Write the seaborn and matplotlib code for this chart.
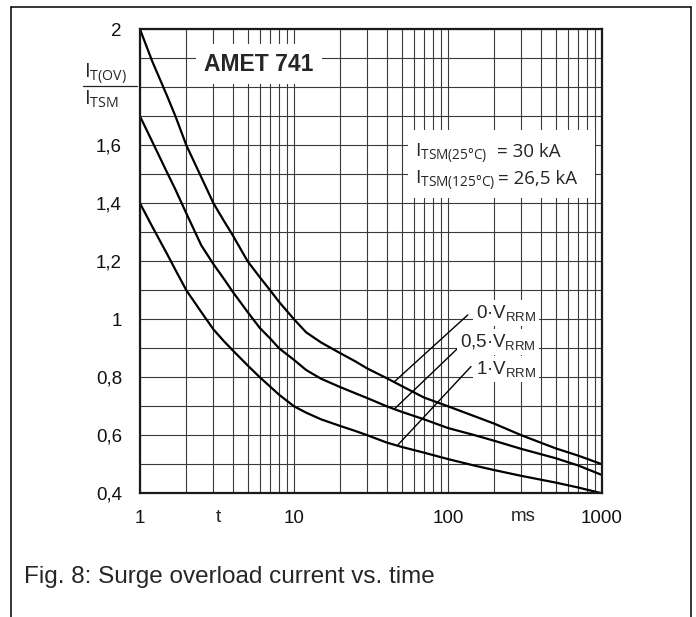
import numpy as np
import pandas as pd
import seaborn as sns
import matplotlib.pyplot as plt
from matplotlib.lines import Line2D
from matplotlib.patches import Rectangle
from matplotlib.ticker import NullFormatter

# Werte (t in ms, I_T(OV)/I_TSM)
t_ms = [1, 1.2, 1.5, 1.7, 2, 2.5, 3, 3.5, 4, 5, 6, 7, 8, 10, 12, 15, 20, 25, 30, 40, 50, 70,
        100, 150, 200, 300, 500, 700, 1000]
ratio_0vrrm = [2.0, 1.89, 1.77, 1.70, 1.60, 1.49, 1.40, 1.34, 1.29, 1.20, 1.145, 1.10, 1.06,
               1.0, 0.955, 0.92, 0.883, 0.855, 0.83, 0.797, 0.77, 0.73,
               0.70, 0.665, 0.64, 0.60, 0.555, 0.53, 0.50]
ratio_05vrrm = [1.70, 1.613, 1.506, 1.447, 1.365, 1.255, 1.19, 1.14, 1.095, 1.025, 0.97, 0.934,
                0.90, 0.86, 0.825, 0.795, 0.766, 0.745, 0.728, 0.70, 0.681, 0.655,
                0.625, 0.60, 0.581, 0.553, 0.521, 0.496, 0.463]
ratio_1vrrm = [1.40, 1.32, 1.225, 1.17, 1.10, 1.025, 0.965, 0.925, 0.893, 0.841, 0.80, 0.768,
               0.74, 0.70, 0.678, 0.655, 0.632, 0.615, 0.60, 0.575, 0.56, 0.54,
               0.518, 0.495, 0.48, 0.46, 0.437, 0.42, 0.40]
kurven = ['0·V', '0,5·V', '1·V']

# Beschriftungen der Kurven und Hinweislinien (Kurve -> Text)
kurven_labels = ['0·V$_{\\mathregular{RRM}}$', '0,5·V$_{\\mathregular{RRM}}$', '1·V$_{\\mathregular{RRM}}$']
hinweis_t = [(45.1, 134.4), (44.7, 115.7), (47.5, 141.0)]
hinweis_r = [(0.786, 1.015), (0.690, 0.900), (0.568, 0.837)]

x_ticks = [1, 10, 100, 1000]
x_tick_labels = ['1', '10', '100', '1000']
y_ticks = [0.4, 0.5, 0.6, 0.7, 0.8, 0.9, 1.0, 1.1, 1.2, 1.3, 1.4, 1.5, 1.6, 1.7, 1.8, 1.9, 2.0]
y_tick_labels = ['0,4', '', '0,6', '', '0,8', '', '1', '', '1,2', '', '1,4', '', '1,6', '', '', '', '2']

df = pd.DataFrame({
    't': t_ms * 3,
    'ratio': ratio_0vrrm + ratio_05vrrm + ratio_1vrrm,
    'kurve': [k for k in kurven for _ in t_ms],
})

sns.set_theme(style='white')
plt.rcParams['font.family'] = ['Liberation Sans', 'DejaVu Sans']
plt.rcParams['mathtext.default'] = 'regular'

W, H = 696, 617
def fx(x):
    return x / W
def fy(y):
    return 1 - y / H

fig = plt.figure(figsize=(W / 100, H / 100), dpi=100)
ax = fig.add_axes([fx(140), fy(493.3), 462 / W, 464 / H])

sns.lineplot(data=df, x='t', y='ratio', hue='kurve', palette=['black'] * 3, legend=False,
             estimator=None, sort=False, linewidth=1.6, ax=ax)

ax.set_xscale('log')
ax.set_xlim(1, 1000)
ax.set_ylim(0.4, 2.0)
ax.set_xticks(x_ticks, labels=x_tick_labels)
ax.xaxis.set_minor_formatter(NullFormatter())
ax.set_yticks(y_ticks, labels=y_tick_labels)
ax.set_xlabel('')
ax.set_ylabel('')
ax.set_axisbelow(True)
ax.grid(True, which='both', color='#3a3a3a', linewidth=0.8)
ax.tick_params(which='both', length=0, labelsize=13.5, colors='#111111')
ax.tick_params(axis='y', pad=13)
ax.tick_params(axis='x', pad=12)
for s in ax.spines.values():
    s.set_linewidth(1.6)
    s.set_color('#1a1a1a')

# Hinweislinien
for tt, rr in zip(hinweis_t, hinweis_r):
    ax.plot(tt, rr, color='black', linewidth=1.0)

# weisse Flaeche ueber dem Gitter
fig.add_artist(Rectangle((fx(408), fy(198)), 187 / W, 68 / H, facecolor='white',
                         edgecolor='none', transform=fig.transFigure, zorder=2))

fig.text(fx(259), fy(70.7), 'AMET 741', fontsize=16.5, fontweight='bold', ha='center',
         va='baseline', bbox=dict(facecolor='white', edgecolor='none', pad=6), zorder=3)

fig.text(fx(415), fy(157.3), '$\\mathregular{I_{TSM(25°C)}}$', fontsize=14,
         family=['Open Sans', 'DejaVu Sans'], va='baseline', zorder=3)
fig.text(fx(496.7), fy(157.3), '= 30 kA', fontsize=13.5,
         family=['Open Sans', 'DejaVu Sans'], va='baseline', zorder=3)
fig.text(fx(415), fy(184), '$\\mathregular{I_{TSM(125°C)}}$', fontsize=14,
         family=['Open Sans', 'DejaVu Sans'], va='baseline', zorder=3)
fig.text(fx(498), fy(184), '= 26,5 kA', fontsize=13.5,
         family=['Open Sans', 'DejaVu Sans'], va='baseline', zorder=3)

for lab, y in zip(kurven_labels, [318.3, 346.7, 374]):
    fig.text(fx(536), fy(y), lab, fontsize=13.5, ha='right', va='baseline',
             bbox=dict(facecolor='white', edgecolor='none', pad=2), zorder=3)

# Achsenbeschriftung als Bruch
fig.text(fx(84), fy(77.3), '$\\mathregular{I_{T(OV)}}$', fontsize=14.5,
         family=['Open Sans', 'DejaVu Sans'], va='baseline')
fig.text(fx(84), fy(105), '$\\mathregular{I_{TSM}}$', fontsize=14.5,
         family=['Open Sans', 'DejaVu Sans'], va='baseline')
fig.add_artist(Line2D([fx(83.3), fx(136.7)], [fy(85.7), fy(85.7)], color='#222222',
                      linewidth=0.9, transform=fig.transFigure))

fig.text(fx(218), fy(521.7), 't', fontsize=14, ha='center', va='baseline')
fig.text(fx(523.3), fy(520.7), 'ms', fontsize=13.5, ha='center', va='baseline')

fig.text(fx(24), fy(583), 'Fig. 8: Surge overload current vs. time', fontsize=17.5,
         ha='left', va='baseline')

# Rahmen
for xs, ys in [([11, 691], [7, 7]), ([11, 11], [7, 617]), ([691, 691], [7, 617])]:
    fig.add_artist(Line2D([fx(v) for v in xs], [fy(v) for v in ys], color='black',
                          linewidth=1.1, transform=fig.transFigure))

fig.savefig('out.png', dpi=100)
